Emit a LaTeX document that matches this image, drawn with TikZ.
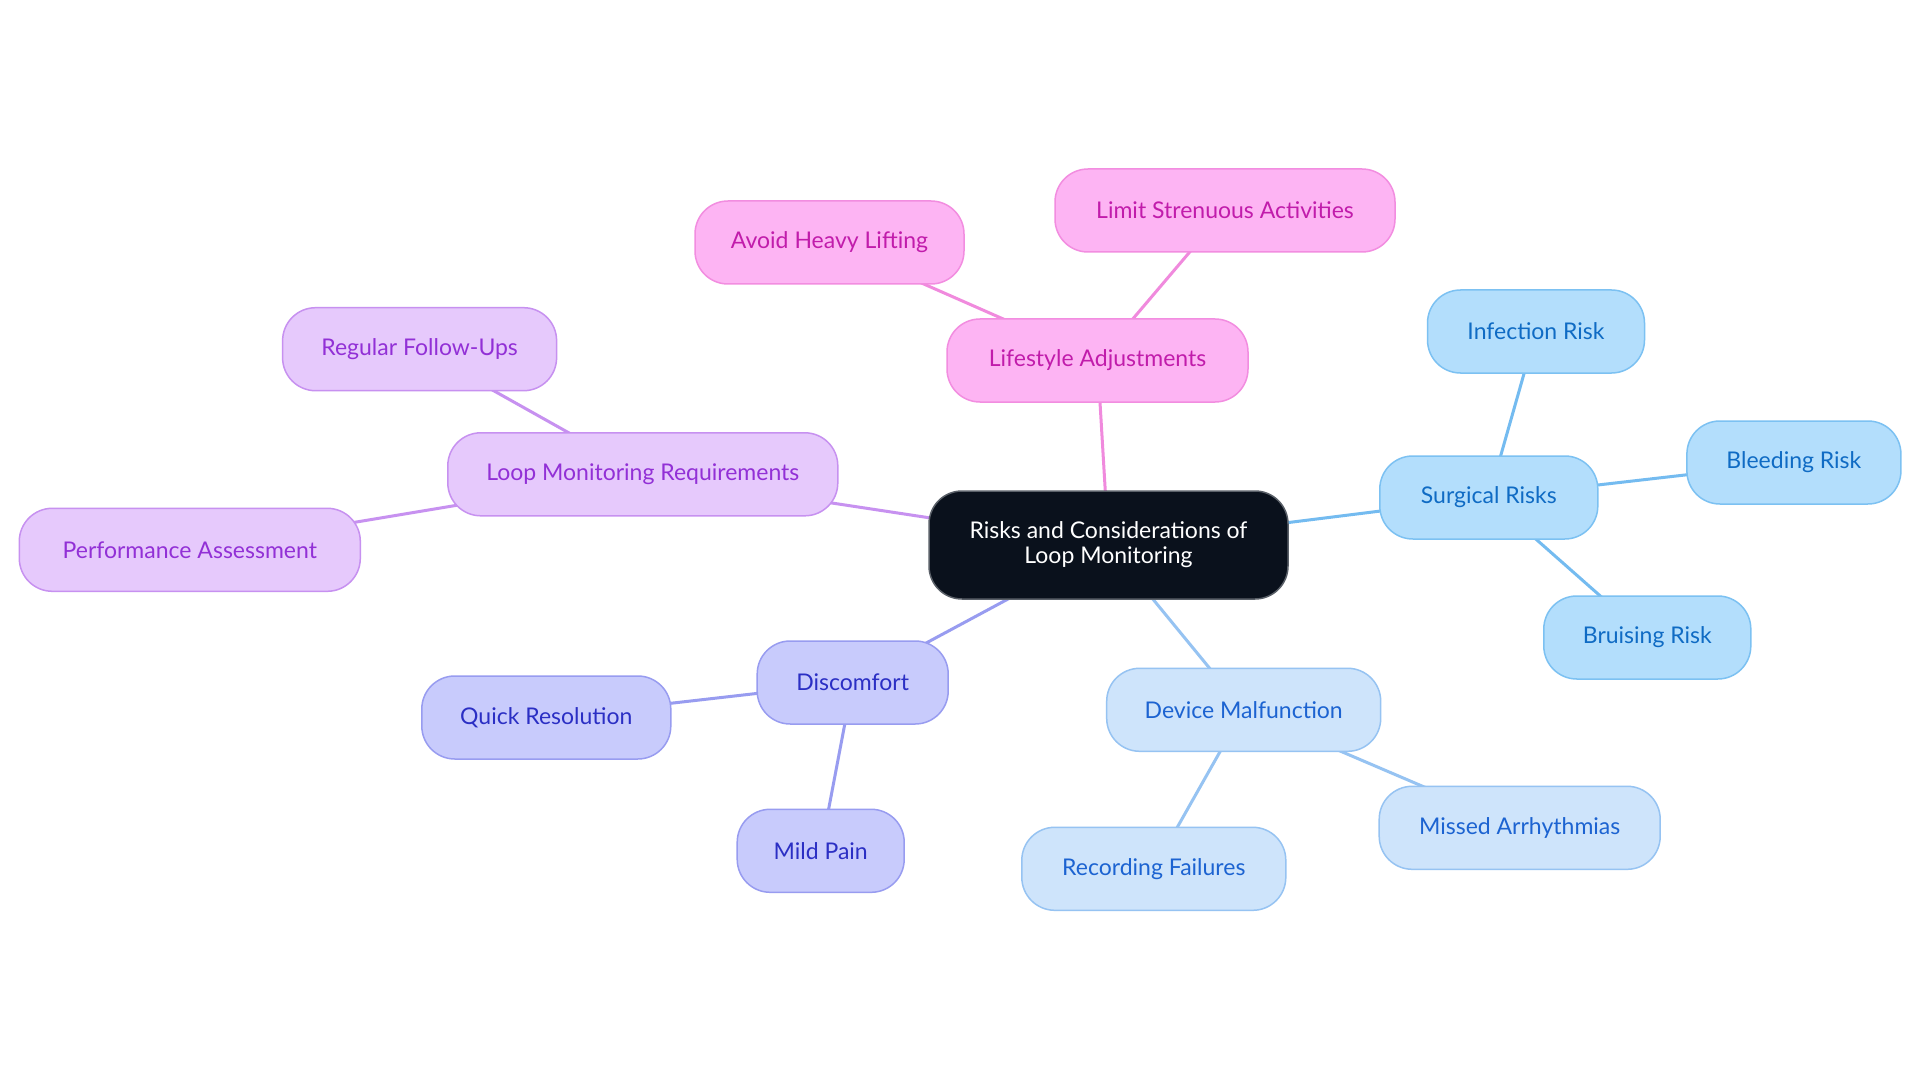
\documentclass[tikz,border=0pt]{standalone}
\usepackage{fontspec}
\setmainfont{Lato}
\usetikzlibrary{backgrounds}
\definecolor{sfill}{HTML}{B3DEFC}\definecolor{sdraw}{HTML}{7CC1F2}\definecolor{stext}{HTML}{0F6BC4}\definecolor{sline}{HTML}{74BBF0}
\definecolor{dfill}{HTML}{CEE4FB}\definecolor{ddraw}{HTML}{96C3F2}\definecolor{dtext}{HTML}{1C63D1}\definecolor{dline}{HTML}{96C3F2}
\definecolor{cfill}{HTML}{C8CBFC}\definecolor{cdraw}{HTML}{989CF0}\definecolor{ctext}{HTML}{2B2FC4}\definecolor{cline}{HTML}{989CF0}
\definecolor{lfill}{HTML}{E6C9FC}\definecolor{ldraw}{HTML}{C791F0}\definecolor{ltext}{HTML}{9230D6}\definecolor{lline}{HTML}{C791F0}
\definecolor{pfill}{HTML}{FDB4F3}\definecolor{pdraw}{HTML}{F28DE0}\definecolor{ptext}{HTML}{C11CAB}\definecolor{pline}{HTML}{F08ADD}
\definecolor{rfill}{HTML}{0A111C}\definecolor{rdraw}{HTML}{5A6068}
\begin{document}
\begin{tikzpicture}[x=1pt,y=-1pt,
  box/.style={rounded corners=33pt,line width=1.5pt,inner sep=0pt,minimum height=83pt,font=\fontsize{23}{27}\selectfont},
  sbox/.style={box,fill=sfill,draw=sdraw,text=stext},
  dbox/.style={box,fill=dfill,draw=ddraw,text=dtext},
  cbox/.style={box,fill=cfill,draw=cdraw,text=ctext},
  lbox/.style={box,fill=lfill,draw=ldraw,text=ltext},
  pbox/.style={box,fill=pfill,draw=pdraw,text=ptext},
  rootbox/.style={box,fill=rfill,draw=rdraw,text=white,minimum height=108pt,align=center,font=\fontsize{23}{25}\selectfont},
  link/.style={line width=3pt}]
\useasboundingbox (0,0) rectangle (1920,1083);
\node[rootbox,minimum width=359pt] (root) at (1108.5,545) {Risks and Considerations of\\Loop Monitoring};
\node[sbox,minimum width=218pt] (surg) at (1488.8,497.5) {Surgical Risks};
\node[sbox,minimum width=217pt] (inf) at (1536,331.5) {Infection Risk};
\node[sbox,minimum width=214pt] (bleed) at (1793.9,462.5) {Bleeding Risk};
\node[sbox,minimum width=207pt] (bruis) at (1647.3,637.5) {Bruising Risk};
\node[pbox,minimum width=269pt] (avoid) at (829.5,242.5) {Avoid Heavy Lifting};
\node[pbox,minimum width=340pt] (limit) at (1225,210.5) {Limit Strenuous Activities};
\node[pbox,minimum width=301pt] (life) at (1097.5,360.5) {Lifestyle Adjustments};
\node[lbox,minimum width=274pt] (reg) at (419.6,349.2) {Regular Follow-Ups};
\node[lbox,minimum width=390pt] (loop) at (642.8,474.3) {Loop Monitoring Requirements};
\node[lbox,minimum width=341pt] (perf) at (189.8,549.8) {Performance Assessment};
\node[cbox,minimum width=249pt] (quick) at (546.3,717.5) {Quick Resolution};
\node[cbox,minimum width=191pt] (disc) at (852.7,682.5) {Discomfort};
\node[cbox,minimum width=167pt] (mild) at (820.7,850.8) {Mild Pain};
\node[dbox,minimum width=274pt] (dev) at (1243.7,709.8) {Device Malfunction};
\node[dbox,minimum width=281pt] (missed) at (1519.7,827.8) {Missed Arrhythmias};
\node[dbox,minimum width=264pt] (rec) at (1153.8,868.8) {Recording Failures};
\begin{scope}[on background layer]
\fill[white] (0,0) rectangle (1920,1083);
\draw[link,sline] (root.center) -- (surg.center);
\draw[link,sline] (surg.center) -- (inf.center);
\draw[link,sline] (surg.center) -- (bleed.center);
\draw[link,sline] (surg.center) -- (bruis.center);
\draw[link,pline] (root.center) -- (life.center);
\draw[link,pline] (life.center) -- (avoid.center);
\draw[link,pline] (life.center) -- (limit.center);
\draw[link,lline] (root.center) -- (loop.center);
\draw[link,lline] (loop.center) -- (reg.center);
\draw[link,lline] (loop.center) -- (perf.center);
\draw[link,cline] (root.center) -- (disc.center);
\draw[link,cline] (disc.center) -- (quick.center);
\draw[link,cline] (disc.center) -- (mild.center);
\draw[link,dline] (root.center) -- (dev.center);
\draw[link,dline] (dev.center) -- (missed.center);
\draw[link,dline] (dev.center) -- (rec.center);
\end{scope}
\end{tikzpicture}
\end{document}
